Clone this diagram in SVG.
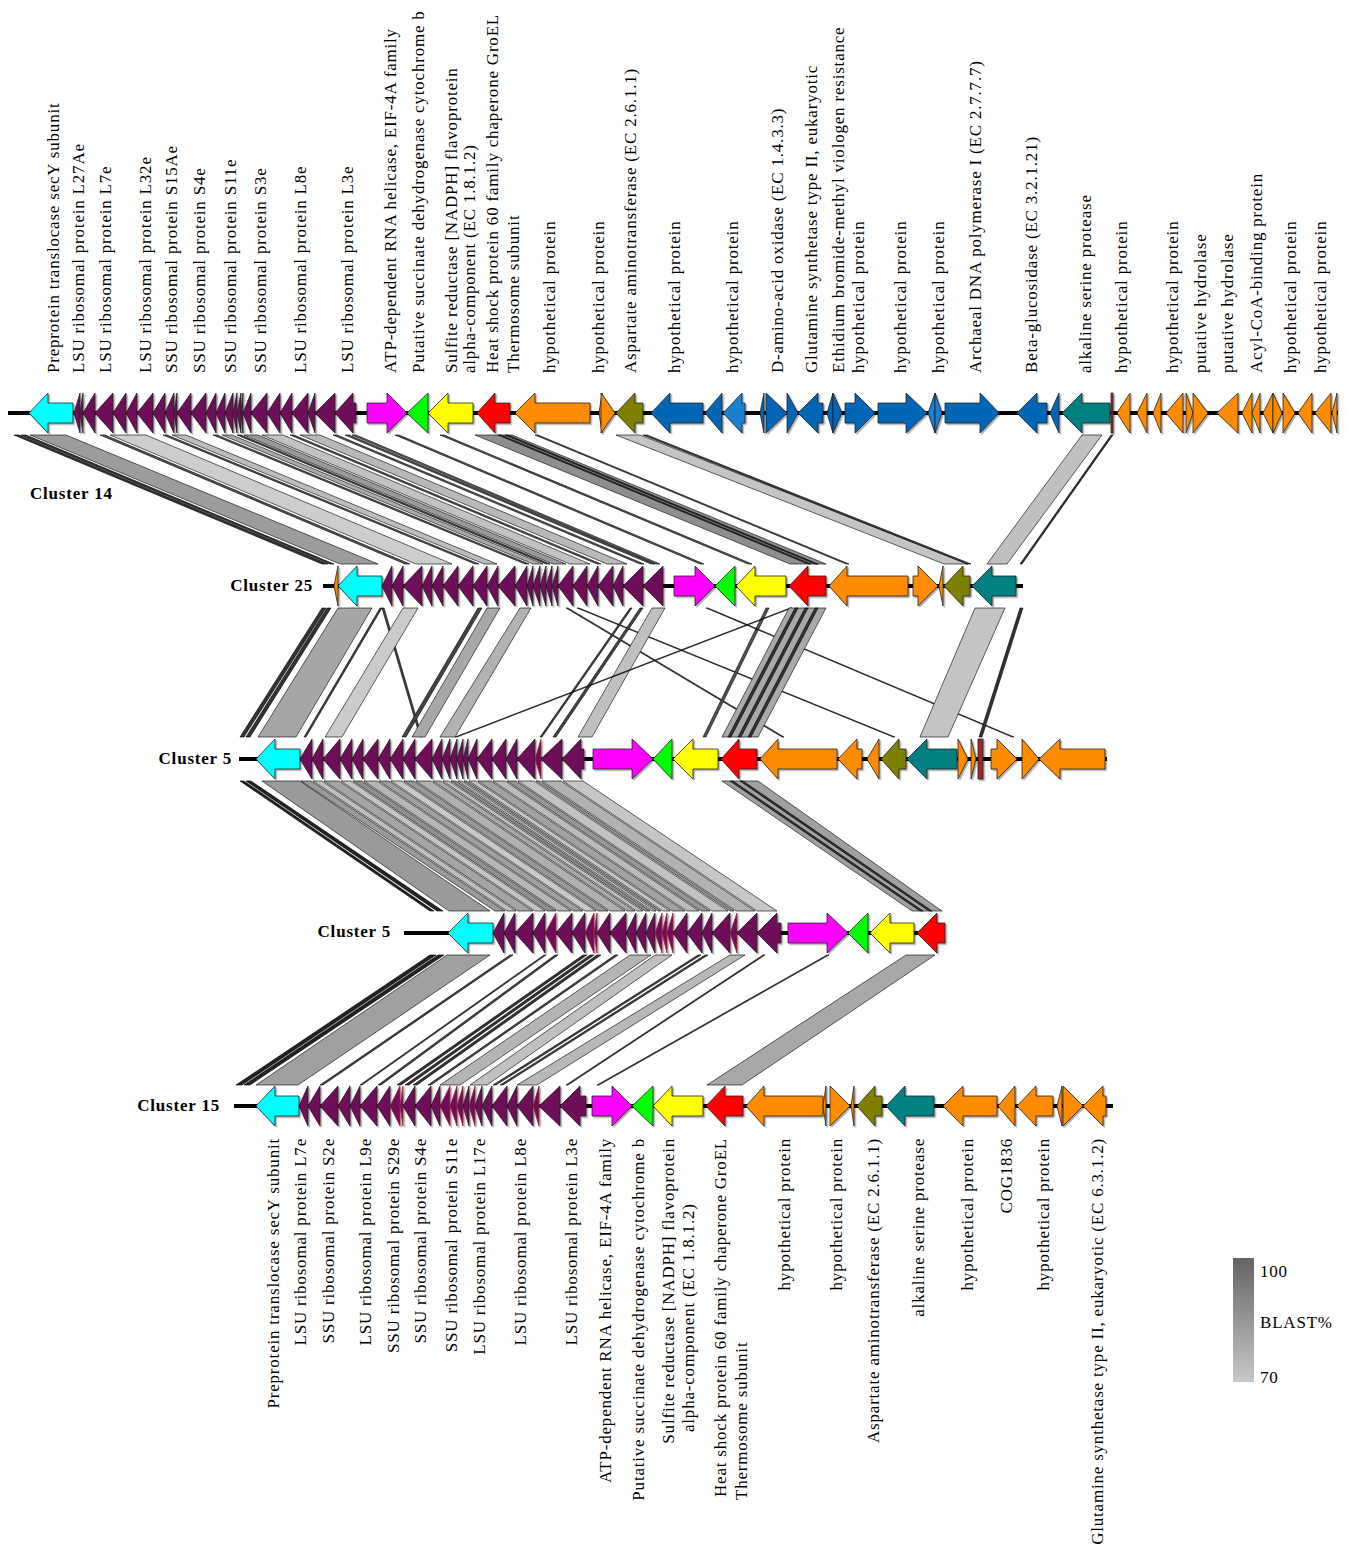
<svg xmlns="http://www.w3.org/2000/svg" width="1348" height="1552" viewBox="0 0 1348 1552">
<style>
.bb{fill:#000}
.g polygon,.g rect{stroke:#222;stroke-width:0.8}
.cy{fill:#00ffff}.pu{fill:#6e0c58}.ma{fill:#ff00ff}.gr{fill:#00ff00}.ye{fill:#ffff00}.re{fill:#ff0000}
.or{fill:#ff8c00}.ol{fill:#808000}.bl{fill:#0066b5}.bl2{fill:#1a7fd0}.te{fill:#008080}.dr{fill:#a0282a}
.rs{stroke:#a0283c !important}
#links polygon{stroke:#000;stroke-width:0.6}
text{font-family:"Liberation Serif","Times New Roman",serif;font-size:17px;letter-spacing:0.8px;fill:#000}
.cl{font-weight:bold}
</style>
<defs>
<filter id="sh" x="-5%" y="-20%" width="110%" height="150%">
<feDropShadow dx="1.5" dy="1.5" stdDeviation="0.7" flood-color="#000" flood-opacity="0.35"/>
</filter>
<linearGradient id="lg" x1="0" y1="0" x2="0" y2="1">
<stop offset="0" stop-color="#646464"/><stop offset="1" stop-color="#c8c8c8"/>
</linearGradient>
</defs>
<rect width="1348" height="1552" fill="#fff"/>

<g id="links">
<!-- 14 -> 25 -->
<polygon points="14,435 19,435 328,564 322,564" fill="#333"/>
<polygon points="21,435 26,435 334,564 330,564" fill="#333"/>
<polygon points="30,435 66,435 378,564 340,564" fill="#9c9c9c"/>
<polygon points="100,435 105,435 410,564 405,564" fill="#555"/>
<polygon points="110,435 146,435 452,564 416,564" fill="#cdcdcd"/>
<polygon points="163,435 167,435 479,564 475,564" fill="#555"/>
<polygon points="172,435 186,435 497,564 484,564" fill="#bdbdbd"/>
<polygon points="213,435 217,435 529,564 525,564" fill="#555"/>
<polygon points="222,435 232,435 543,564 533,564" fill="#aaa"/>
<polygon points="237,435 241,435 550,564 546,564" fill="#444"/>
<polygon points="244,435 258,435 566,564 553,564" fill="#9a9a9a"/>
<polygon points="262,435 283,435 590,564 570,564" fill="#c2c2c2"/>
<polygon points="290,435 294,435 601,564 597,564" fill="#555"/>
<polygon points="300,435 320,435 627,564 607,564" fill="#b8b8b8"/>
<polygon points="333,435 337,435 644,564 640,564" fill="#555"/>
<polygon points="345,435 349,435 655,564 651,564" fill="#555"/>
<polygon points="352,435 356,435 660,564 656,564" fill="#666"/>
<polygon points="395,435 399,435 704,564 700,564" fill="#555"/>
<polygon points="440,435 444,435 752,564 748,564" fill="#555"/>
<polygon points="475,435 512,435 826,564 790,564" fill="#8e8e8e"/>
<polygon points="498,435 501,435 811,564 808,564" fill="#333"/>
<polygon points="505,435 508,435 818,564 815,564" fill="#333"/>
<polygon points="535,435 538,435 849,564 846,564" fill="#555"/>
<polygon points="616,435 640,435 968,564 944,564" fill="#c4c4c4"/>
<polygon points="643,435 647,435 971,564 967,564" fill="#444"/>
<polygon points="1082,435 1102,435 1007,564 987,564" fill="#c0c0c0"/>
<polygon points="1111,435 1113,435 1022,564 1020,564" fill="#333"/>
<!-- 25 -> 5 -->
<polygon points="322,608 326,608 244,737 240,737" fill="#333"/>
<polygon points="327,608 331,608 250,737 246,737" fill="#333"/>
<polygon points="338,608 372,608 296,737 258,737" fill="#a6a6a6"/>
<polygon points="380,608 382,608 306,737 304,737" fill="#444"/>
<polygon points="382,608 384,608 422,737 420,737" fill="#444"/>
<polygon points="403,608 418,608 342,737 325,737" fill="#cbcbcb"/>
<polygon points="478,608 482,608 406,737 402,737" fill="#444"/>
<polygon points="487,608 500,608 425,737 412,737" fill="#a8a8a8"/>
<polygon points="520,608 531,608 455,737 440,737" fill="#b2b2b2"/>
<polygon points="566,608 568,608 784,737 782,737" fill="#444"/>
<polygon points="577,608 579,608 895,737 893,737" fill="#444"/>
<polygon points="630,608 632,608 542,737 540,737" fill="#444"/>
<polygon points="640,608 643,608 556,737 553,737" fill="#444"/>
<polygon points="652,608 665,608 592,737 578,737" fill="#c0c0c0"/>
<polygon points="766,608 769,608 706,737 703,737" fill="#555"/>
<polygon points="706,608 708,608 1014,737 1012,737" fill="#444"/>
<polygon points="790,608 792,608 457,737 455,737" fill="#444"/>
<polygon points="789,608 826,608 758,737 722,737" fill="#a9a9a9"/>
<polygon points="795,608 798,608 731,737 728,737" fill="#333"/>
<polygon points="805,608 808,608 741,737 738,737" fill="#333"/>
<polygon points="815,608 818,608 751,737 748,737" fill="#333"/>
<polygon points="975,608 1005,608 948,737 920,737" fill="#c4c4c4"/>
<polygon points="1020,608 1023,608 982,737 979,737" fill="#333"/>
<!-- 5 -> 5 -->
<polygon points="240,781 244,781 434,911 430,911" fill="#222"/>
<polygon points="246,781 251,781 443,911 437,911" fill="#222"/>
<polygon points="262,781 300,781 490,911 449,911" fill="#9a9a9a"/>
<polygon points="301,781 311,781 505,911 495,911" fill="#9a9a9a"/>
<polygon points="313,781 322,781 516,911 507,911" fill="#bebebe"/>
<polygon points="324,781 339,781 533,911 518,911" fill="#a5a5a5"/>
<polygon points="341,781 351,781 545,911 535,911" fill="#c4c4c4"/>
<polygon points="353,781 362,781 556,911 547,911" fill="#8f8f8f"/>
<polygon points="364,781 377,781 571,911 558,911" fill="#b6b6b6"/>
<polygon points="379,781 389,781 583,911 573,911" fill="#a0a0a0"/>
<polygon points="391,781 402,781 596,911 585,911" fill="#c8c8c8"/>
<polygon points="404,781 414,781 608,911 598,911" fill="#989898"/>
<polygon points="416,781 431,781 625,911 610,911" fill="#b0b0b0"/>
<polygon points="433,781 441,781 635,911 627,911" fill="#a8a8a8"/>
<polygon points="443,781 449,781 643,911 637,911" fill="#c0c0c0"/>
<polygon points="451,781 456,781 650,911 645,911" fill="#8c8c8c"/>
<polygon points="458,781 462,781 656,911 652,911" fill="#b8b8b8"/>
<polygon points="464,781 467,781 661,911 658,911" fill="#999"/>
<polygon points="469,781 476,781 670,911 663,911" fill="#c4c4c4"/>
<polygon points="478,781 491,781 685,911 672,911" fill="#a2a2a2"/>
<polygon points="493,781 505,781 699,911 687,911" fill="#bbb"/>
<polygon points="507,781 516,781 710,911 701,911" fill="#969696"/>
<polygon points="518,781 534,781 728,911 712,911" fill="#c2c2c2"/>
<polygon points="536,781 540,781 734,911 730,911" fill="#9c9c9c"/>
<polygon points="542,781 561,781 755,911 736,911" fill="#b2b2b2"/>
<polygon points="563,781 583,781 777,911 757,911" fill="#c6c6c6"/>
<polygon points="722,781 758,781 942,911 912,911" fill="#a0a0a0"/>
<polygon points="730,781 733,781 923,911 920,911" fill="#333"/>
<polygon points="740,781 743,781 932,911 929,911" fill="#333"/>
<!-- 5 -> 15 -->
<polygon points="430,955 436,955 242,1085 236,1085" fill="#222"/>
<polygon points="438,955 444,955 250,1085 244,1085" fill="#222"/>
<polygon points="447,955 490,955 298,1085 256,1085" fill="#a0a0a0"/>
<polygon points="510,955 513,955 323,1085 320,1085" fill="#444"/>
<polygon points="544,955 546,955 362,1085 360,1085" fill="#444"/>
<polygon points="555,955 558,955 381,1085 378,1085" fill="#444"/>
<polygon points="583,955 587,955 401,1085 397,1085" fill="#333"/>
<polygon points="590,955 594,955 409,1085 405,1085" fill="#333"/>
<polygon points="597,955 601,955 417,1085 413,1085" fill="#333"/>
<polygon points="615,955 618,955 431,1085 428,1085" fill="#444"/>
<polygon points="630,955 651,955 460,1085 440,1085" fill="#b4b4b4"/>
<polygon points="655,955 672,955 487,1085 470,1085" fill="#c0c0c0"/>
<polygon points="698,955 701,955 496,1085 493,1085" fill="#444"/>
<polygon points="705,955 708,955 503,1085 500,1085" fill="#444"/>
<polygon points="730,955 745,955 537,1085 517,1085" fill="#b8b8b8"/>
<polygon points="763,955 765,955 568,1085 566,1085" fill="#444"/>
<polygon points="827,955 829,955 599,1085 597,1085" fill="#444"/>
<polygon points="906,955 935,955 742,1085 707,1085" fill="#a8a8a8"/>
</g>

<g id="cluster14">
<rect class="bb" x="8" y="411" width="1330" height="4"/>
<g class="g" filter="url(#sh)">
<polygon class="cy" points="29,413 48,393 48,403 73,403 73,423 48,423 48,433"/>
<polygon class="pu" points="74,413 80,393 80,433"/>
<polygon class="pu" points="80,413 83,393 83,433"/>
<polygon class="pu" points="83,413 95,393 95,433"/>
<polygon class="pu" points="95,413 113,393 113,433"/>
<polygon class="pu" points="113,413 126,393 126,433"/>
<polygon class="pu" points="126,413 137,393 137,433"/>
<polygon class="pu" points="137,413 153,393 153,433"/>
<polygon class="pu" points="153,413 165,393 165,433"/>
<polygon class="pu" points="165,413 174,393 174,433"/>
<polygon class="pu" points="174,413 177,393 177,433"/>
<polygon class="pu" points="177,413 191,393 191,433"/>
<polygon class="pu" points="191,413 206,393 206,433"/>
<polygon class="pu" points="206,413 216,393 216,433"/>
<polygon class="pu" points="216,413 225,393 225,433"/>
<polygon class="pu" points="225,413 233,393 233,433"/>
<polygon class="pu" points="233,413 237,393 237,433"/>
<polygon class="pu" points="237,413 241,393 241,433"/>
<polygon class="pu" points="241,413 243,393 243,433"/>
<polygon class="pu" points="243,413 251,393 251,433"/>
<polygon class="pu" points="251,413 267,393 267,433"/>
<polygon class="pu" points="267,413 280,393 280,433"/>
<polygon class="pu" points="280,413 292,393 292,433"/>
<polygon class="pu" points="292,413 308,393 308,433"/>
<polygon class="pu" points="308,413 315,393 315,433"/>
<polygon class="pu" points="315,413 335,393 335,433"/>
<polygon class="pu" points="335,413 353,393 353,403 356,403 356,423 353,423 353,433"/>
<polygon class="ma" points="367,403 387,403 387,393 407,413 387,433 387,423 367,423"/>
<polygon class="gr" points="407,413 428,393 428,433"/>
<polygon class="ye" points="428,413 448,393 448,403 473,403 473,423 448,423 448,433"/>
<polygon class="re" points="477,413 495,393 495,403 510,403 510,423 495,423 495,433"/>
<polygon class="or" points="515,413 535,393 535,403 590,403 590,423 535,423 535,433"/>
<polygon class="or" points="599,413 602,393 602,433"/>
<polygon class="or" points="601,393 615,413 601,433"/>
<polygon class="ol" points="616,413 635,393 635,403 643,403 643,423 635,423 635,433"/>
<polygon class="bl" points="651,413 670,393 670,403 703,403 703,423 670,423 670,433"/>
<polygon class="bl" points="705,413 722,393 722,433"/>
<polygon class="bl2" points="723,413 742,393 742,403 745,403 745,423 742,423 742,433"/>
<polygon class="bl" points="760,413 764,393 764,433"/>
<polygon class="bl" points="766,393 787,413 766,433"/>
<polygon class="bl" points="787,393 798,413 787,433"/>
<polygon class="bl" points="798,413 818,393 818,403 823,403 823,423 818,423 818,433"/>
<polygon class="bl" points="827,413 833,393 833,433"/>
<polygon class="bl" points="833,393 842,413 833,433"/>
<polygon class="bl" points="845,403 855,403 855,393 875,413 855,433 855,423 845,423"/>
<polygon class="bl" points="878,403 906,403 906,393 927,413 906,433 906,423 878,423"/>
<polygon class="bl2" points="928,413 935,393 935,433"/>
<polygon class="bl2" points="935,393 942,413 935,433"/>
<polygon class="bl" points="945,403 980,403 980,393 999,413 980,433 980,423 945,423"/>
<polygon class="bl" points="1017,413 1037,393 1037,403 1047,403 1047,423 1037,423 1037,433"/>
<polygon class="bl" points="1050,413 1059,393 1059,433"/>
<polygon class="te" points="1062,413 1082,393 1082,403 1110,403 1110,423 1082,423 1082,433"/>
<rect class="dr" x="1111" y="393" width="2" height="40"/>
<polygon class="or" points="1117,413 1130,393 1130,433"/>
<polygon class="or" points="1137,413 1147,393 1147,433"/>
<polygon class="or" points="1153,413 1161,393 1161,433"/>
<polygon class="or" points="1166,413 1183,393 1183,433"/>
<polygon class="or" points="1186,393 1193,413 1186,433"/>
<polygon class="or" points="1193,393 1208,413 1193,433"/>
<polygon class="or" points="1217,413 1238,393 1238,433"/>
<polygon class="or" points="1242,413 1252,393 1252,433"/>
<polygon class="or" points="1252,413 1260,393 1260,433"/>
<polygon class="or" points="1263,413 1273,393 1273,433"/>
<polygon class="or" points="1273,393 1282,413 1273,433"/>
<polygon class="or" points="1283,393 1295,413 1283,433"/>
<polygon class="or" points="1298,413 1312,393 1312,433"/>
<polygon class="or" points="1315,413 1331,393 1331,433"/>
<polygon class="or" points="1332,413 1337,393 1337,433"/>
</g>
</g>

<g id="cluster25">
<rect class="bb" x="323" y="584" width="700" height="4"/>
<g class="g" filter="url(#sh)">
<polygon class="or" points="334,586 338,566 338,606"/>
<polygon class="cy" points="338,586 357,566 357,576 382,576 382,596 357,596 357,606"/>
<polygon class="pu" points="382,586 392,566 392,606"/>
<polygon class="pu" points="392,586 403,566 403,606"/>
<polygon class="pu" points="403,586 422,566 422,606"/>
<polygon class="pu" points="422,586 432,566 432,606"/>
<polygon class="pu" points="432,586 443,566 443,606"/>
<polygon class="pu" points="443,586 458,566 458,606"/>
<polygon class="pu" points="458,586 473,566 473,606"/>
<polygon class="pu" points="473,586 487,566 487,606"/>
<polygon class="pu" points="487,586 498,566 498,606"/>
<polygon class="pu" points="498,586 515,566 515,606"/>
<polygon class="pu" points="515,586 527,566 527,606"/>
<polygon class="pu" points="527,586 533,566 533,606"/>
<polygon class="pu" points="533,586 540,566 540,606"/>
<polygon class="pu" points="540,586 546,566 546,606"/>
<polygon class="pu" points="546,586 552,566 552,606"/>
<polygon class="pu" points="552,586 558,566 558,606"/>
<polygon class="pu" points="558,586 573,566 573,606"/>
<polygon class="pu" points="573,586 587,566 587,606"/>
<polygon class="pu" points="587,586 598,566 598,606"/>
<polygon class="pu" points="598,586 613,566 613,606"/>
<polygon class="pu" points="613,586 623,566 623,606"/>
<polygon class="pu" points="623,586 643,566 643,606"/>
<polygon class="pu" points="643,586 663,566 663,606"/>
<polygon class="ma" points="674,576 695,576 695,566 715,586 695,606 695,596 674,596"/>
<polygon class="gr" points="715,586 735,566 735,606"/>
<polygon class="ye" points="736,586 755,566 755,576 786,576 786,596 755,596 755,606"/>
<polygon class="re" points="789,586 808,566 808,576 826,576 826,596 808,596 808,606"/>
<polygon class="or" points="829,586 847,566 847,576 908,576 908,596 847,596 847,606"/>
<polygon class="or" points="913,576 918,576 918,566 938,586 918,606 918,596 913,596"/>
<polygon class="or" points="939,586 943,566 943,606"/>
<polygon class="ol" points="944,586 963,566 963,576 970,576 970,596 963,596 963,606"/>
<polygon class="te" points="972,586 992,566 992,576 1016,576 1016,596 992,596 992,606"/>
</g>
</g>

<g id="cluster5a">
<rect class="bb" x="239" y="757" width="868" height="4"/>
<g class="g" filter="url(#sh)">
<polygon class="cy" points="256,759 275,739 275,749 300,749 300,769 275,769 275,779"/>
<polygon class="pu" points="300,759 312,739 312,779"/>
<polygon class="pu" points="312,759 323,739 323,779"/>
<polygon class="pu" points="323,759 340,739 340,779"/>
<polygon class="pu" points="340,759 352,739 352,779"/>
<polygon class="pu" points="352,759 363,739 363,779"/>
<polygon class="pu" points="363,759 378,739 378,779"/>
<polygon class="pu" points="378,759 390,739 390,779"/>
<polygon class="pu" points="390,759 403,739 403,779"/>
<polygon class="pu" points="403,759 415,739 415,779"/>
<polygon class="pu" points="415,759 432,739 432,779"/>
<polygon class="pu" points="432,759 442,739 442,779"/>
<polygon class="pu" points="442,759 450,739 450,779"/>
<polygon class="pu" points="450,759 457,739 457,779"/>
<polygon class="pu" points="457,759 463,739 463,779"/>
<polygon class="pu" points="463,759 468,739 468,779"/>
<polygon class="pu" points="468,759 477,739 477,779"/>
<polygon class="pu" points="477,759 492,739 492,779"/>
<polygon class="pu" points="492,759 506,739 506,779"/>
<polygon class="pu" points="506,759 517,739 517,779"/>
<polygon class="pu" points="517,759 535,739 535,779"/>
<polygon class="pu rs" points="535,759 541,739 541,779"/>
<polygon class="pu" points="541,759 562,739 562,779"/>
<polygon class="pu" points="562,759 581,739 581,749 584,749 584,769 581,769 581,779"/>
<polygon class="ma" points="593,749 632,749 632,739 653,759 632,779 632,769 593,769"/>
<polygon class="gr" points="653,759 672,739 672,779"/>
<polygon class="ye" points="673,759 693,739 693,749 718,749 718,769 693,769 693,779"/>
<polygon class="re" points="721,759 739,739 739,749 757,749 757,769 739,769 739,779"/>
<polygon class="or" points="760,759 778,739 778,749 837,749 837,769 778,769 778,779"/>
<polygon class="or" points="838,759 857,739 857,749 862,749 862,769 857,769 857,779"/>
<polygon class="or" points="867,759 879,739 879,779"/>
<polygon class="ol" points="881,759 899,739 899,749 906,749 906,769 899,769 899,779"/>
<polygon class="te" points="907,759 927,739 927,749 957,749 957,769 927,769 927,779"/>
<polygon class="or" points="958,739 968,759 958,779"/>
<polygon class="or" points="971,739 976,759 971,779"/>
<rect class="dr" x="978" y="739" width="5" height="40"/>
<polygon class="or" points="991,749 997,749 997,739 1017,759 997,779 997,769 991,769"/>
<polygon class="or" points="1022,739 1039,759 1022,779"/>
<polygon class="or" points="1039,759 1060,739 1060,749 1105,749 1105,769 1060,769 1060,779"/>
</g>
</g>

<g id="cluster5b">
<rect class="bb" x="404" y="931" width="541" height="4"/>
<g class="g" filter="url(#sh)">
<polygon class="cy" points="448,933 468,913 468,923 493,923 493,943 468,943 468,953"/>
<polygon class="pu" points="493,933 504,913 504,953"/>
<polygon class="pu" points="504,933 515,913 515,953"/>
<polygon class="pu" points="515,933 533,913 533,953"/>
<polygon class="pu" points="533,933 545,913 545,953"/>
<polygon class="pu rs" points="545,933 556,913 556,953"/>
<polygon class="pu" points="556,933 572,913 572,953"/>
<polygon class="pu" points="572,933 585,913 585,953"/>
<polygon class="pu rs" points="585,933 594,913 594,953"/>
<polygon class="pu rs" points="594,933 597,913 597,953"/>
<polygon class="pu" points="597,933 610,913 610,953"/>
<polygon class="pu" points="610,933 626,913 626,953"/>
<polygon class="pu" points="626,933 636,913 636,953"/>
<polygon class="pu" points="636,933 646,913 646,953"/>
<polygon class="pu" points="646,933 655,913 655,953"/>
<polygon class="pu rs" points="655,933 662,913 662,953"/>
<polygon class="pu rs" points="662,933 667,913 667,953"/>
<polygon class="pu rs" points="667,933 673,913 673,953"/>
<polygon class="pu" points="673,933 687,913 687,953"/>
<polygon class="pu" points="687,933 702,913 702,953"/>
<polygon class="pu" points="702,933 712,913 712,953"/>
<polygon class="pu" points="712,933 730,913 730,953"/>
<polygon class="pu rs" points="730,933 737,913 737,953"/>
<polygon class="pu" points="737,933 757,913 757,953"/>
<polygon class="pu" points="757,933 777,913 777,923 781,923 781,943 777,943 777,953"/>
<polygon class="ma" points="788,923 827,923 827,913 848,933 827,953 827,943 788,943"/>
<polygon class="gr" points="848,933 868,913 868,953"/>
<polygon class="ye" points="870,933 890,913 890,923 914,923 914,943 890,943 890,953"/>
<polygon class="re" points="917,933 937,913 937,923 945,923 945,943 937,943 937,953"/>
</g>
</g>

<g id="cluster15">
<rect class="bb" x="234" y="1104" width="879" height="4"/>
<g class="g" filter="url(#sh)">
<polygon class="cy" points="256,1106 275,1086 275,1096 299,1096 299,1116 275,1116 275,1126"/>
<polygon class="pu" points="299,1106 308,1086 308,1126"/>
<polygon class="pu" points="308,1106 320,1086 320,1126"/>
<polygon class="pu" points="320,1106 338,1086 338,1126"/>
<polygon class="pu" points="338,1106 350,1086 350,1126"/>
<polygon class="pu" points="350,1106 360,1086 360,1126"/>
<polygon class="pu" points="360,1106 377,1086 377,1126"/>
<polygon class="pu" points="377,1106 390,1086 390,1126"/>
<polygon class="pu rs" points="390,1106 400,1086 400,1126"/>
<polygon class="pu rs" points="400,1106 403,1086 403,1126"/>
<polygon class="pu" points="403,1106 415,1086 415,1126"/>
<polygon class="pu" points="415,1106 431,1086 431,1126"/>
<polygon class="pu" points="431,1106 440,1086 440,1126"/>
<polygon class="pu rs" points="440,1106 450,1086 450,1126"/>
<polygon class="pu rs" points="450,1106 457,1086 457,1126"/>
<polygon class="pu rs" points="457,1106 463,1086 463,1126"/>
<polygon class="pu" points="463,1106 469,1086 469,1126"/>
<polygon class="pu rs" points="469,1106 475,1086 475,1126"/>
<polygon class="pu" points="475,1106 482,1086 482,1126"/>
<polygon class="pu" points="482,1106 492,1086 492,1126"/>
<polygon class="pu" points="492,1106 507,1086 507,1126"/>
<polygon class="pu" points="507,1106 517,1086 517,1126"/>
<polygon class="pu" points="517,1106 533,1086 533,1126"/>
<polygon class="pu rs" points="533,1106 539,1086 539,1126"/>
<polygon class="pu" points="539,1106 560,1086 560,1126"/>
<polygon class="pu" points="560,1106 580,1086 580,1096 586,1096 586,1116 580,1116 580,1126"/>
<polygon class="ma" points="592,1096 612,1096 612,1086 632,1106 612,1126 612,1116 592,1116"/>
<polygon class="gr" points="632,1106 653,1086 653,1126"/>
<polygon class="ye" points="653,1106 672,1086 672,1096 703,1096 703,1116 672,1116 672,1126"/>
<polygon class="re" points="706,1106 725,1086 725,1096 743,1096 743,1116 725,1116 725,1126"/>
<polygon class="or" points="746,1106 764,1086 764,1096 823,1096 823,1116 764,1116 764,1126"/>
<polygon class="or" points="823,1106 826,1086 826,1126"/>
<polygon class="or" points="830,1086 850,1106 830,1126"/>
<polygon class="or" points="851,1106 854,1086 854,1126"/>
<polygon class="ol" points="857,1106 875,1086 875,1096 882,1096 882,1116 875,1116 875,1126"/>
<polygon class="te" points="886,1106 905,1086 905,1096 934,1096 934,1116 905,1116 905,1126"/>
<polygon class="or" points="943,1106 963,1086 963,1096 997,1096 997,1116 963,1116 963,1126"/>
<polygon class="or" points="998,1106 1015,1086 1015,1126"/>
<polygon class="or" points="1017,1106 1036,1086 1036,1096 1053,1096 1053,1116 1036,1116 1036,1126"/>
<polygon class="or" points="1057,1106 1062,1086 1062,1126"/>
<polygon class="or" points="1063,1086 1083,1106 1063,1126"/>
<polygon class="or" points="1083,1106 1103,1086 1103,1096 1106,1096 1106,1116 1103,1116 1103,1126"/>
</g>
</g>

<g id="cluster-labels">
<text class="cl" x="30" y="499">Cluster 14</text>
<text class="cl" x="313" y="591" text-anchor="end">Cluster 25</text>
<text class="cl" x="232" y="764" text-anchor="end">Cluster 5</text>
<text class="cl" x="391" y="937" text-anchor="end">Cluster 5</text>
<text class="cl" x="220" y="1111" text-anchor="end">Cluster 15</text>
</g>

<g id="top-labels">
<text transform="translate(59,373) rotate(-90)">Preprotein translocase secY subunit</text>
<text transform="translate(84,373) rotate(-90)">LSU ribosomal protein L27Ae</text>
<text transform="translate(111,373) rotate(-90)">LSU ribosomal protein L7e</text>
<text transform="translate(151,373) rotate(-90)">LSU ribosomal protein L32e</text>
<text transform="translate(177,373) rotate(-90)">SSU ribosomal protein S15Ae</text>
<text transform="translate(205,373) rotate(-90)">SSU ribosomal protein S4e</text>
<text transform="translate(236,373) rotate(-90)">SSU ribosomal protein S11e</text>
<text transform="translate(266,373) rotate(-90)">SSU ribosomal protein S3e</text>
<text transform="translate(306,373) rotate(-90)">LSU ribosomal protein L8e</text>
<text transform="translate(353,373) rotate(-90)">LSU ribosomal protein L3e</text>
<text transform="translate(396,373) rotate(-90)">ATP-dependent RNA helicase, EIF-4A family</text>
<text transform="translate(424,373) rotate(-90)">Putative succinate dehydrogenase cytochrome b</text>
<text transform="translate(457,373) rotate(-90)">Sulfite reductase [NADPH] flavoprotein</text>
<text transform="translate(475,373) rotate(-90)">alpha-component (EC 1.8.1.2)</text>
<text transform="translate(498,373) rotate(-90)">Heat shock protein 60 family chaperone GroEL</text>
<text transform="translate(519,373) rotate(-90)">Thermosome subunit</text>
<text transform="translate(555,373) rotate(-90)">hypothetical protein</text>
<text transform="translate(604,373) rotate(-90)">hypothetical protein</text>
<text transform="translate(636,373) rotate(-90)">Aspartate aminotransferase (EC 2.6.1.1)</text>
<text transform="translate(680,373) rotate(-90)">hypothetical protein</text>
<text transform="translate(738,373) rotate(-90)">hypothetical protein</text>
<text transform="translate(783,373) rotate(-90)">D-amino-acid oxidase (EC 1.4.3.3)</text>
<text transform="translate(817,373) rotate(-90)">Glutamine synthetase type II, eukaryotic</text>
<text transform="translate(844,373) rotate(-90)">Ethidium bromide-methyl viologen resistance</text>
<text transform="translate(864,373) rotate(-90)">hypothetical protein</text>
<text transform="translate(906,373) rotate(-90)">hypothetical protein</text>
<text transform="translate(944,373) rotate(-90)">hypothetical protein</text>
<text transform="translate(981,373) rotate(-90)">Archaeal DNA polymerase I (EC 2.7.7.7)</text>
<text transform="translate(1037,373) rotate(-90)">Beta-glucosidase (EC 3.2.1.21)</text>
<text transform="translate(1091,373) rotate(-90)">alkaline serine protease</text>
<text transform="translate(1127,373) rotate(-90)">hypothetical protein</text>
<text transform="translate(1178,373) rotate(-90)">hypothetical protein</text>
<text transform="translate(1206,373) rotate(-90)">putative hydrolase</text>
<text transform="translate(1233,373) rotate(-90)">putative hydrolase</text>
<text transform="translate(1262,373) rotate(-90)">Acyl-CoA-binding protein</text>
<text transform="translate(1296,373) rotate(-90)">hypothetical protein</text>
<text transform="translate(1326,373) rotate(-90)">hypothetical protein</text>
</g>

<g id="bottom-labels">
<text transform="translate(279,1138) rotate(-90)" text-anchor="end">Preprotein translocase secY subunit</text>
<text transform="translate(306,1138) rotate(-90)" text-anchor="end">LSU ribosomal protein L7e</text>
<text transform="translate(334,1138) rotate(-90)" text-anchor="end">SSU ribosomal protein S2e</text>
<text transform="translate(371,1138) rotate(-90)" text-anchor="end">LSU ribosomal protein L9e</text>
<text transform="translate(399,1138) rotate(-90)" text-anchor="end">SSU ribosomal protein S29e</text>
<text transform="translate(426,1138) rotate(-90)" text-anchor="end">SSU ribosomal protein S4e</text>
<text transform="translate(457,1138) rotate(-90)" text-anchor="end">SSU ribosomal protein S11e</text>
<text transform="translate(485,1138) rotate(-90)" text-anchor="end">LSU ribosomal protein L17e</text>
<text transform="translate(526,1138) rotate(-90)" text-anchor="end">LSU ribosomal protein L8e</text>
<text transform="translate(577,1138) rotate(-90)" text-anchor="end">LSU ribosomal protein L3e</text>
<text transform="translate(611,1138) rotate(-90)" text-anchor="end">ATP-dependent RNA helicase, EIF-4A family</text>
<text transform="translate(644,1138) rotate(-90)" text-anchor="end">Putative succinate dehydrogenase cytochrome b</text>
<text transform="translate(674,1138) rotate(-90)" text-anchor="end">Sulfite reductase [NADPH] flavoprotein</text>
<text transform="translate(694,1432) rotate(-90)">alpha-component (EC 1.8.1.2)</text>
<text transform="translate(726,1138) rotate(-90)" text-anchor="end">Heat shock protein 60 family chaperone GroEL</text>
<text transform="translate(747,1500) rotate(-90)">Thermosome subunit</text>
<text transform="translate(790,1138) rotate(-90)" text-anchor="end">hypothetical protein</text>
<text transform="translate(842,1138) rotate(-90)" text-anchor="end">hypothetical protein</text>
<text transform="translate(879,1138) rotate(-90)" text-anchor="end">Aspartate aminotransferase (EC 2.6.1.1)</text>
<text transform="translate(924,1138) rotate(-90)" text-anchor="end">alkaline serine protease</text>
<text transform="translate(973,1138) rotate(-90)" text-anchor="end">hypothetical protein</text>
<text transform="translate(1012,1138) rotate(-90)" text-anchor="end">COG1836</text>
<text transform="translate(1049,1138) rotate(-90)" text-anchor="end">hypothetical protein</text>
<text transform="translate(1103,1138) rotate(-90)" text-anchor="end">Glutamine synthetase type II, eukaryotic (EC 6.3.1.2)</text>
</g>

<g id="legend">
<rect x="1233" y="1258" width="21" height="124" fill="url(#lg)"/>
<text x="1260" y="1277">100</text>
<text x="1260" y="1328">BLAST%</text>
<text x="1260" y="1383">70</text>
</g>
</svg>
